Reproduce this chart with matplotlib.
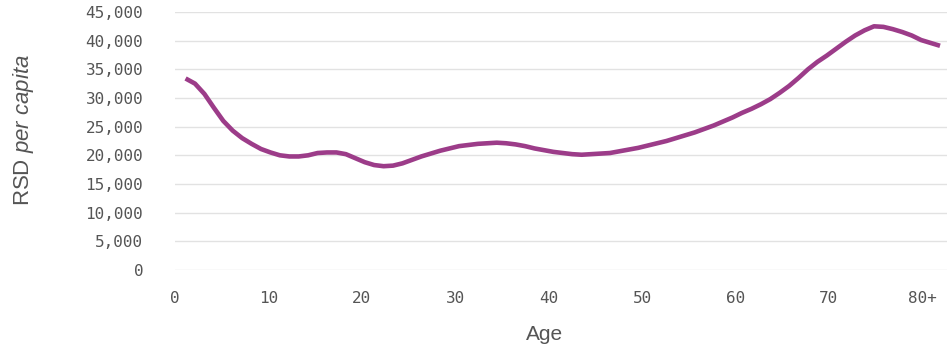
import numpy as np
import matplotlib
matplotlib.use("Agg")
import matplotlib.pyplot as plt

# RSD per capita by single year of age (last point is the open 80+ group)
ages = np.arange(0, 81)
rsd_per_capita = [
    33400, 32500, 30700, 28300, 26000, 24300, 23000, 22000, 21100, 20500,
    20000, 19800, 19800, 20000, 20400, 20500, 20500, 20200, 19500, 18800,
    18300, 18100, 18200, 18600, 19200, 19800, 20300, 20800, 21200, 21600,
    21800, 22000, 22100, 22200, 22100, 21900, 21600, 21200, 20900, 20600,
    20400, 20200, 20100, 20200, 20300, 20400, 20700, 21000, 21300, 21700,
    22100, 22500, 23000, 23500, 24000, 24600, 25200, 25900, 26600, 27400,
    28100, 28900, 29800, 30900, 32100, 33500, 35000, 36300, 37400, 38600,
    39800, 40900, 41800, 42500, 42400, 42000, 41500, 40900, 40100, 39600,
    39100,
]
age_ticks = [0, 10, 20, 30, 40, 50, 60, 70, 80]
age_labels = ["0", "10", "20", "30", "40", "50", "60", "70", "80+"]
y_ticks = np.arange(0, 45001, 5000)

LINE_COLOR = "#9c3c89"
TEXT_COLOR = "#555555"
GRID_COLOR = "#e2e2e2"

plt.rcParams["mathtext.fontset"] = "custom"
plt.rcParams["mathtext.rm"] = "Liberation Sans"
plt.rcParams["mathtext.it"] = "Liberation Sans:italic"

fig = plt.figure(figsize=(9.47, 3.52), dpi=100, facecolor="white")
ax = fig.add_axes([0.185, 0.233, 0.815, 0.733])

ax.plot(ages, rsd_per_capita, color=LINE_COLOR, linewidth=3.3,
        solid_capstyle="butt", solid_joinstyle="round", zorder=3)

ax.set_xlim(-0.53, 80.74)
ax.set_ylim(0, 45000)

# horizontal gridlines only, no frame
ax.set_yticks(y_ticks)
ax.set_yticklabels([f"{v:,}" for v in y_ticks])
ax.yaxis.grid(True, color=GRID_COLOR, linewidth=1.0)
ax.set_axisbelow(True)
for side in ax.spines.values():
    side.set_visible(False)

# category labels sit slightly left of the data points
ax.set_xticks(np.array(age_ticks) * 0.99 - 1.1)
ax.set_xticklabels(age_labels)

ax.tick_params(axis="both", length=0, labelsize=11.5, labelcolor=TEXT_COLOR)
ax.tick_params(axis="y", pad=23)
ax.tick_params(axis="x", pad=15)
for lbl in ax.get_xticklabels() + ax.get_yticklabels():
    lbl.set_family("DejaVu Sans Mono")

fig.text(545 / 947, 1 - 335 / 352, "Age", ha="center", va="center",
         fontsize=15, color=TEXT_COLOR, family="Liberation Sans")
fig.text(23 / 947, 1 - 130 / 352, r"RSD $\mathit{per\ capita}$", ha="center",
         va="center", rotation=90, fontsize=16, color=TEXT_COLOR,
         family="Liberation Sans")

fig.savefig("out.png", dpi=100, facecolor="white")
